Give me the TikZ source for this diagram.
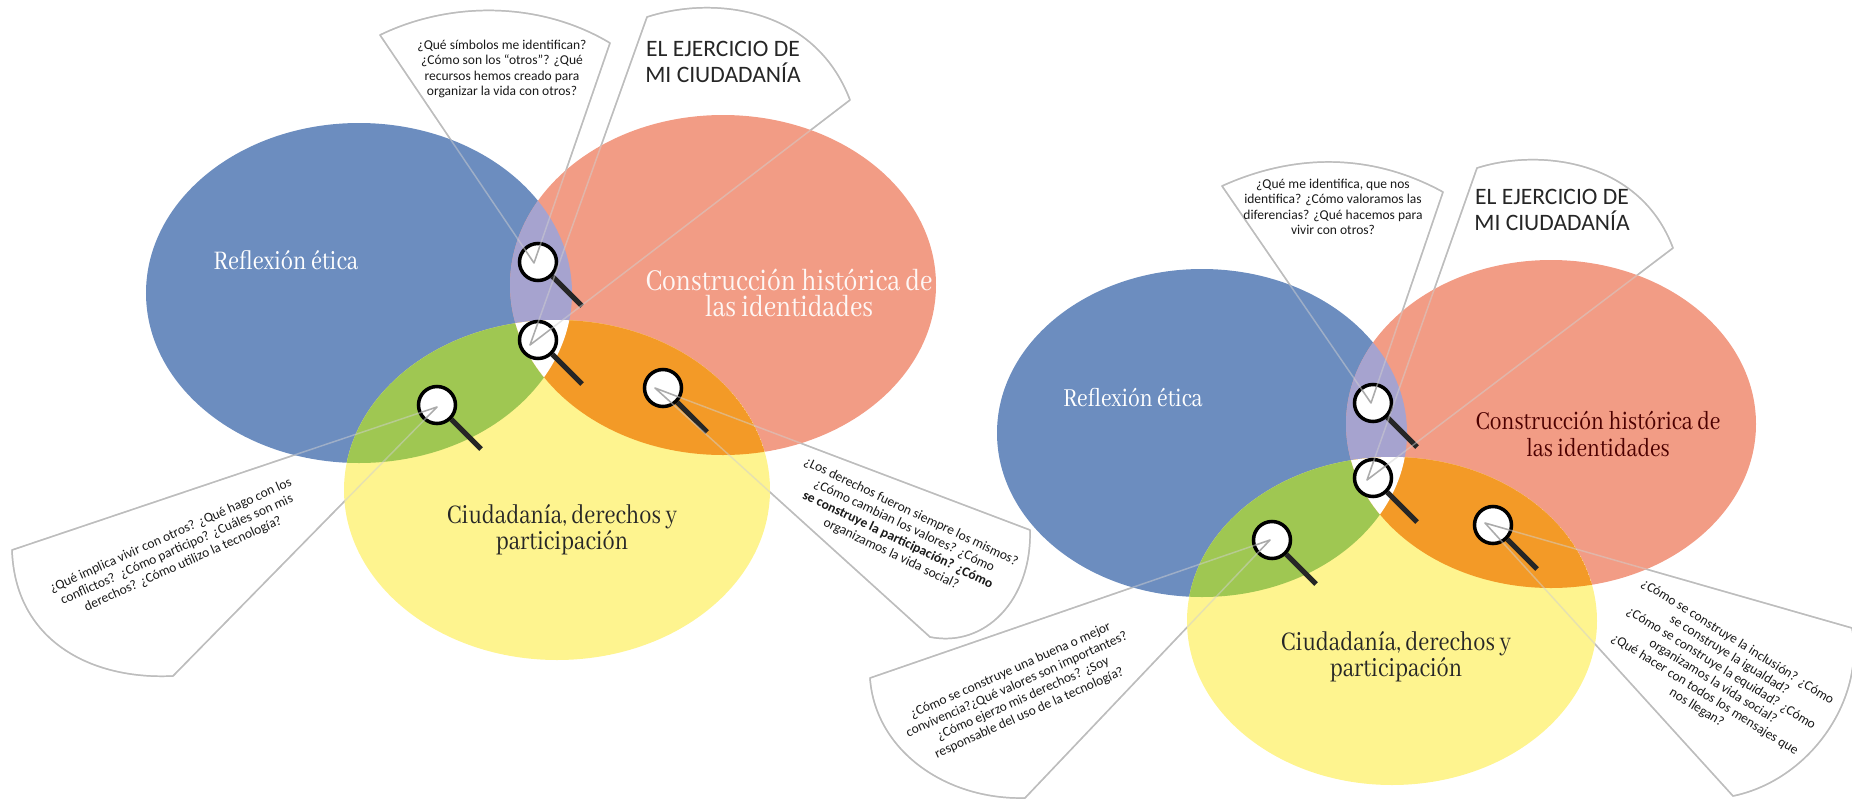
\documentclass[tikz,border=0pt]{standalone}
\usepackage{fontspec}
\setmainfont{Carlito}
\newfontfamily\titlefont[FakeStretch=0.82]{Abhaya Libre}
\definecolor{blueset}{HTML}{6C8DBF}
\definecolor{salmonset}{HTML}{F29C85}
\definecolor{yellowset}{HTML}{FEF48F}
\definecolor{greenset}{HTML}{9FC752}
\definecolor{orangeset}{HTML}{F39A27}
\definecolor{purpleset}{HTML}{A6A3CF}
\definecolor{fanline}{HTML}{ABABAB}
\definecolor{fanfaint}{HTML}{D0D0D0}
\tikzset{
    settitle/.style={font=\titlefont\fontsize{8.4}{7.5}\selectfont,align=center},
    question/.style={font=\fontsize{3.85}{4.4}\selectfont,align=center,text=black!90},
    headline/.style={font=\fontsize{6.7}{7.2}\selectfont,align=center,text=black!85},
    fan/.style={draw=fanline,line width=0.42pt,line join=round},
    faintfan/.style={draw=fanfaint,draw opacity=0.5,line width=0.42pt,line join=round},
    lens/.style={circle,draw=black,line width=1pt,fill=white,minimum size=0.37cm,inner sep=0pt}
}
\newcommand{\drawfans}[1]{
    \draw[#1] (tipla) -- (3.80,0.35) .. controls (4.50,0.01) and (5.40,0.01) .. (6.10,0.43) -- cycle;
    \draw[#1] (tiplb) -- (6.47,0.17) .. controls (7.15,-0.05) and (8.15,0.08) .. (8.50,1.00) -- cycle;
    \draw[#1] (tiplc) -- (10.30,5.30) .. controls (10.32,6.00) and (9.85,6.48) .. (9.30,6.37) -- cycle;
    \draw[#1] (tipld) -- (0.12,5.50) .. controls (0.15,6.40) and (0.90,6.80) .. (1.73,6.76) -- cycle;
    \draw[#1] (tipra) -- (12.22,1.86) .. controls (12.95,1.53) and (13.72,1.53) .. (14.43,1.92) -- cycle;
    \draw[#1] (tiprb) -- (14.77,1.68) .. controls (15.40,1.48) and (16.40,1.60) .. (16.73,2.48) -- cycle;
    \draw[#1] (tiprc) -- (18.52,6.28) .. controls (18.65,7.00) and (18.10,7.80) .. (17.33,7.96) -- cycle;
    \draw[#1] (tiprd) -- (8.70,6.78) .. controls (8.75,7.50) and (9.45,8.00) .. (10.25,7.98) -- cycle;
}
\begin{document}
\begin{tikzpicture}[y=-1cm]
            \useasboundingbox (0,0) rectangle (18.52,7.99);
            \coordinate (tipla) at (5.34,2.63);
            \coordinate (tiplb) at (5.30,3.45);
            \coordinate (tiplc) at (6.55,3.88);
            \coordinate (tipld) at (4.37,4.07);
            \coordinate (tipra) at (13.71,4.03);
            \coordinate (tiprb) at (13.67,4.80);
            \coordinate (tiprc) at (14.85,5.23);
            \coordinate (tiprd) at (12.70,5.40);
            % fan lines lie under the sets
            \drawfans{fan}
            % the three sets and their overlaps
            \foreach \bx/\by/\sx/\sy/\yx/\yy/\rx/\ry in {3.59/2.93/7.23/2.85/5.57/4.90/2.13/1.70, 12.02/4.33/15.51/4.24/13.92/6.21/2.05/1.64} {
                \fill[blueset] (\bx,\by) ellipse ({\rx} and {\ry});
                \fill[salmonset] (\sx,\sy) ellipse ({\rx} and {\ry});
                \fill[yellowset] (\yx,\yy) ellipse ({\rx} and {\ry});
                \begin{scope}
                    \clip (\bx,\by) ellipse ({\rx} and {\ry});
                    \fill[purpleset] (\sx,\sy) ellipse ({\rx} and {\ry});
                    \fill[greenset] (\yx,\yy) ellipse ({\rx} and {\ry});
                    \clip (\sx,\sy) ellipse ({\rx} and {\ry});
                    \fill[white] (\yx,\yy) ellipse ({\rx} and {\ry});
                \end{scope}
                \begin{scope}
                    \clip (\sx,\sy) ellipse ({\rx} and {\ry});
                    \clip (\yx,\yy) ellipse ({\rx} and {\ry});
                    \fill[orangeset] (\yx,\yy) ellipse ({\rx} and {\ry});
                    \clip (\bx,\by) ellipse ({\rx} and {\ry});
                    \fill[white] (\yx,\yy) ellipse ({\rx} and {\ry});
                \end{scope}
            }
            % magnifying glasses
            \foreach \n/\x/\y in {la/5.38/2.62, lb/5.38/3.40, lc/6.63/3.88, ld/4.37/4.05, ra/13.73/4.03, rb/13.73/4.78, rc/14.93/5.25, rd/12.72/5.40} {
                \coordinate (\n end) at (\x+0.44,\y+0.44);
                \node[lens] (\n) at (\x,\y) {};
                \draw[line width=1.5pt,black!85] (\n.south east) -- (\n end);
            }
            \drawfans{faintfan}
            % fan lines show again inside the glasses
            \begin{scope}
                \clip (5.38,2.62) circle (0.17) (5.38,3.40) circle (0.17) (6.63,3.88) circle (0.17) (4.37,4.05) circle (0.17)
                    (13.73,4.03) circle (0.17) (13.73,4.78) circle (0.17) (14.93,5.25) circle (0.17) (12.72,5.40) circle (0.17);
                \drawfans{fan}
            \end{scope}
            % set titles
            \node[settitle,text=white] (ethicsl) at (2.86,2.60) {Reflexión ética};
            \node[settitle,font=\titlefont\fontsize{9.5}{7.5}\selectfont,text=white!92!salmonset] (historyl) at (7.89,2.93) {Construcción histórica de\\las identidades};
            \node[settitle,text=black!85] (rightsl) at (5.62,5.30) {Ciudadanía, derechos y\\participación};
            \node[settitle,font=\titlefont\fontsize{8.1}{7.5}\selectfont,text=white] (ethicsr) at (11.33,3.98) {Reflexión ética};
            \node[settitle,font=\titlefont\fontsize{8.1}{7.5}\selectfont,text=black!70!red] (historyr) at (15.98,4.34) {Construcción histórica de\\las identidades};
            \node[settitle,text=black!85] (rightsr) at (13.96,6.57) {Ciudadanía, derechos y\\participación};
            % headings and questions
            \node[headline] (headl) at (7.23,0.62) {EL EJERCICIO DE\\MI CIUDADANÍA};
            \node[headline] (headr) at (15.52,2.10) {EL EJERCICIO DE\\MI CIUDADANÍA};
            \node[question] (askla) at (5.02,0.69) {¿Qué símbolos me identifican?\\¿Cómo son los “otros”? ¿Qué\\recursos hemos creado para\\organizar la vida con otros?};
            \node[question,rotate=-25.5] (asklc) at (9.01,5.33) {¿Los derechos fueron siempre los mismos?\\¿Cómo cambian los valores? ¿Cómo\\\textbf{se construye la participación? ¿Cómo}\\organizamos la vida social?};
            \node[question,rotate=24] (askld) at (1.77,5.50) {¿Qué implica vivir con otros? ¿Qué hago con los\\conflictos?\ \ ¿Cómo participo? ¿Cuáles son mis\\derechos? ¿Cómo utilizo la tecnología?};
            \node[question] (askra) at (13.33,2.07) {¿Qué me identifica, que nos\\identifica? ¿Cómo valoramos las\\diferencias? ¿Qué hacemos para\\vivir con otros?};
            \node[question,rotate=-32] (askrc) at (17.17,6.75) {¿Cómo se construye la inclusión? ¿Cómo\\se construye la igualdad?\\¿Cómo se construye la equidad? ¿Cómo\\organizamos la vida social?\\¿Qué hacer con todos los mensajes que\\nos llegan?};
            \node[question,rotate=24] (askrd) at (10.20,6.92) {¿Cómo se construye una buena o mejor\\convivencia?¿Qué valores son importantes?\\¿Cómo ejerzo mis derechos? ¿Soy\\responsable del uso de la tecnología?};
        \end{tikzpicture}
\end{document}
